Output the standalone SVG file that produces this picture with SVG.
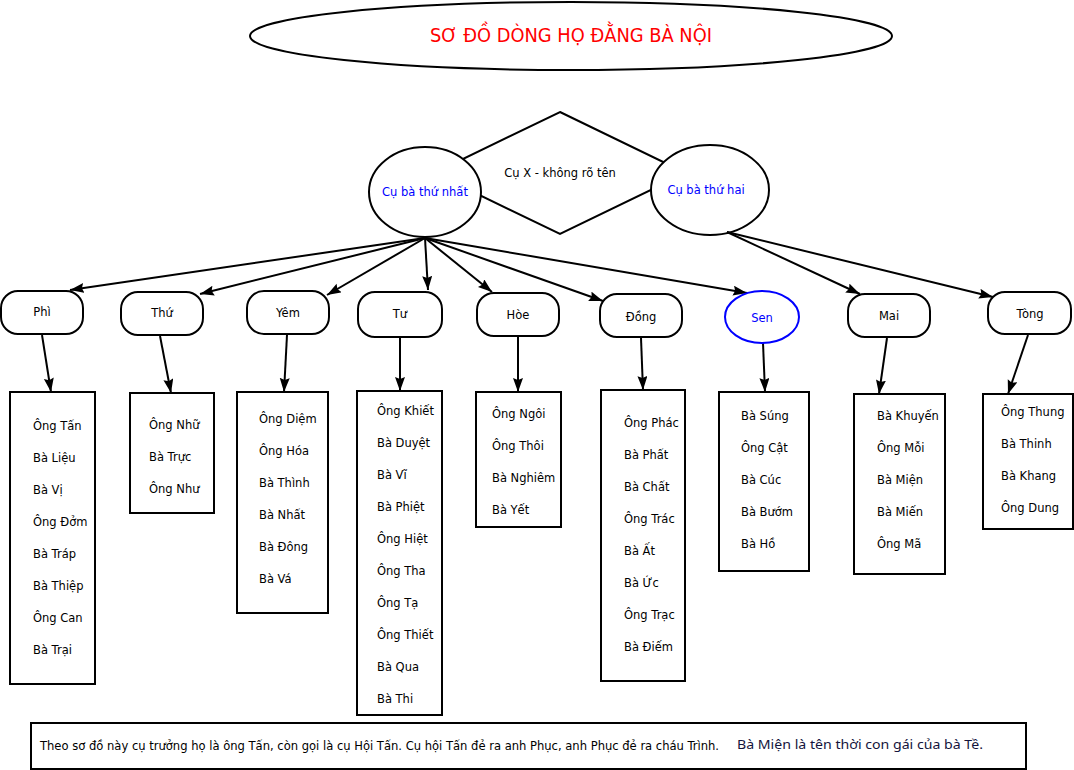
<svg xmlns="http://www.w3.org/2000/svg" width="1074" height="770" viewBox="0 0 1074 770">
<style>
text{font-family:"DejaVu Sans","Noto Sans",sans-serif;font-size:11.5px;fill:#000}
.c{text-anchor:middle}
.blue{fill:#0000ff}
.shape{fill:#fff;stroke:#000;stroke-width:2}
.edge{fill:none;stroke:#000;stroke-width:2;marker-end:url(#arr)}
</style>
<defs>
<marker id="arr" markerUnits="userSpaceOnUse" markerWidth="16" markerHeight="12" refX="14" refY="5" orient="auto">
<path d="M0,0 L14,5 L0,10 L2,5 z" fill="#000"/>
</marker>
</defs>
<rect x="0" y="0" width="1074" height="770" fill="#fff"/>

<g id="title">
<ellipse cx="571" cy="36" rx="321" ry="34" class="shape"/>
<text x="571" y="42" class="c" style="font-family:'DejaVu Sans Condensed','DejaVu Sans',sans-serif;font-size:20px;fill:#ff0000" textLength="282" lengthAdjust="spacingAndGlyphs">SƠ ĐỒ DÒNG HỌ ĐẰNG BÀ NỘI</text>
</g>

<g id="cu-x">
<polygon points="560,112 686,173 560,234 434,173" class="shape"/>
<text x="560" y="177" class="c">Cụ X - không rõ tên</text>
</g>
<g id="cu-ba-1">
<ellipse cx="425" cy="192" rx="56" ry="45" class="shape"/>
<text x="425" y="196" class="c blue">Cụ bà thứ nhất</text>
</g>
<g id="cu-ba-2">
<ellipse cx="710" cy="190" rx="59" ry="45" class="shape"/>
<text x="706" y="194" class="c blue">Cụ bà thứ hai</text>
</g>

<g id="connectors">
<line x1="425" y1="238" x2="70" y2="290" class="edge"/>
<line x1="425" y1="238" x2="200" y2="294" class="edge"/>
<line x1="425" y1="238" x2="327" y2="295" class="edge"/>
<line x1="425" y1="238" x2="428" y2="290" class="edge"/>
<line x1="425" y1="238" x2="492" y2="292" class="edge"/>
<line x1="425" y1="238" x2="603" y2="301" class="edge"/>
<line x1="425" y1="238" x2="747" y2="293" class="edge"/>
<line x1="727" y1="232" x2="860" y2="294" class="edge"/>
<line x1="727" y1="232" x2="993" y2="297" class="edge"/>
<line x1="42" y1="335" x2="51" y2="392" class="edge"/>
<line x1="160" y1="336" x2="171" y2="393" class="edge"/>
<line x1="287" y1="335" x2="284" y2="392" class="edge"/>
<line x1="400" y1="337" x2="400" y2="391" class="edge"/>
<line x1="518" y1="337" x2="518" y2="392" class="edge"/>
<line x1="641" y1="338" x2="643" y2="390" class="edge"/>
<line x1="763" y1="343" x2="765" y2="392" class="edge"/>
<line x1="887" y1="338" x2="879" y2="394" class="edge"/>
<line x1="1028" y1="335" x2="1008" y2="394" class="edge"/>
</g>

<g id="phi">
<rect x="1" y="291" width="82" height="43" rx="17" class="shape"/>
<text x="42" y="316" class="c">Phì</text>
</g>
<g id="thu">
<rect x="121" y="292" width="82" height="43" rx="17" class="shape"/>
<text x="162" y="317" class="c">Thứ</text>
</g>
<g id="yem">
<rect x="247" y="291" width="82" height="43" rx="17" class="shape"/>
<text x="288" y="317" class="c">Yêm</text>
</g>
<g id="tu">
<rect x="358" y="292" width="84" height="45" rx="17" class="shape"/>
<text x="400" y="318" class="c">Tư</text>
</g>
<g id="hoe">
<rect x="477" y="293" width="82" height="43" rx="17" class="shape"/>
<text x="518" y="319" class="c">Hòe</text>
</g>
<g id="dong">
<rect x="600" y="294" width="82" height="43" rx="17" class="shape"/>
<text x="641" y="321" class="c">Đồng</text>
</g>
<g id="sen">
<ellipse cx="762" cy="317" rx="37" ry="26" style="fill:#fff;stroke:#0000ff;stroke-width:2"/>
<text x="762" y="322" class="c blue">Sen</text>
</g>
<g id="mai">
<rect x="848" y="294" width="82" height="43" rx="17" class="shape"/>
<text x="889" y="320" class="c">Mai</text>
</g>
<g id="tong">
<rect x="988" y="292" width="83" height="42" rx="17" class="shape"/>
<text x="1030" y="318" class="c">Tòng</text>
</g>

<g id="phi-children">
<rect x="10" y="392" width="85" height="292" class="shape"/>
<text x="33" y="430">Ông Tấn</text>
<text x="33" y="462">Bà Liệu</text>
<text x="33" y="494">Bà Vị</text>
<text x="33" y="526">Ông Đởm</text>
<text x="33" y="558">Bà Tráp</text>
<text x="33" y="590">Bà Thiệp</text>
<text x="33" y="622">Ông Can</text>
<text x="33" y="654">Bà Trại</text>
</g>
<g id="thu-children">
<rect x="130" y="393" width="84" height="120" class="shape"/>
<text x="149" y="429">Ông Nhữ</text>
<text x="149" y="461">Bà Trực</text>
<text x="149" y="493">Ông Như</text>
</g>
<g id="yem-children">
<rect x="237" y="392" width="91" height="221" class="shape"/>
<text x="259" y="423">Ông Diệm</text>
<text x="259" y="455">Ông Hóa</text>
<text x="259" y="487">Bà Thình</text>
<text x="259" y="519">Bà Nhất</text>
<text x="259" y="551">Bà Đông</text>
<text x="259" y="583">Bà Vá</text>
</g>
<g id="tu-children">
<rect x="357" y="391" width="85" height="324" class="shape"/>
<text x="377" y="415">Ông Khiết</text>
<text x="377" y="447">Bà Duyệt</text>
<text x="377" y="479">Bà Vĩ</text>
<text x="377" y="511">Bà Phiệt</text>
<text x="377" y="543">Ông Hiệt</text>
<text x="377" y="575">Ông Tha</text>
<text x="377" y="607">Ông Tạ</text>
<text x="377" y="639">Ông Thiết</text>
<text x="377" y="671">Bà Qua</text>
<text x="377" y="703">Bà Thi</text>
</g>
<g id="hoe-children">
<rect x="476" y="392" width="85" height="135" class="shape"/>
<text x="492" y="418">Ông Ngôi</text>
<text x="492" y="450">Ông Thôi</text>
<text x="492" y="482">Bà Nghiêm</text>
<text x="492" y="514">Bà Yết</text>
</g>
<g id="dong-children">
<rect x="601" y="390" width="84" height="291" class="shape"/>
<text x="624" y="427">Ông Phác</text>
<text x="624" y="459">Bà Phất</text>
<text x="624" y="491">Bà Chất</text>
<text x="624" y="523">Ông Trác</text>
<text x="624" y="555">Bà Ất</text>
<text x="624" y="587">Bà Ức</text>
<text x="624" y="619">Ông Trạc</text>
<text x="624" y="651">Bà Điếm</text>
</g>
<g id="sen-children">
<rect x="719" y="392" width="90" height="179" class="shape"/>
<text x="741" y="420">Bà Súng</text>
<text x="741" y="452">Ông Cật</text>
<text x="741" y="484">Bà Cúc</text>
<text x="741" y="516">Bà Bướm</text>
<text x="741" y="548">Bà Hồ</text>
</g>
<g id="mai-children">
<rect x="854" y="394" width="91" height="180" class="shape"/>
<text x="877" y="420">Bà Khuyến</text>
<text x="877" y="452">Ông Mỗi</text>
<text x="877" y="484">Bà Miện</text>
<text x="877" y="516">Bà Miến</text>
<text x="877" y="548">Ông Mã</text>
</g>
<g id="tong-children">
<rect x="983" y="394" width="90" height="135" class="shape"/>
<text x="1001" y="416">Ông Thung</text>
<text x="1001" y="448">Bà Thinh</text>
<text x="1001" y="480">Bà Khang</text>
<text x="1001" y="512">Ông Dung</text>
</g>

<g id="note">
<rect x="31" y="723" width="995" height="46" class="shape"/>
<text x="40" y="750" style="font-family:'DejaVu Sans Condensed','Liberation Sans',sans-serif;font-size:12px" textLength="679" lengthAdjust="spacingAndGlyphs">Theo sơ đồ này cụ trưởng họ là ông Tấn, còn gọi là cụ Hội Tấn. Cụ hội Tấn đẻ ra anh Phục, anh Phục đẻ ra cháu Trình.</text>
<text x="737" y="749" style="font-family:'Noto Sans',sans-serif;font-size:13px;fill:#14143c" textLength="246" lengthAdjust="spacingAndGlyphs">Bà Miện là tên thời con gái của bà Tề.</text>
</g>
</svg>
